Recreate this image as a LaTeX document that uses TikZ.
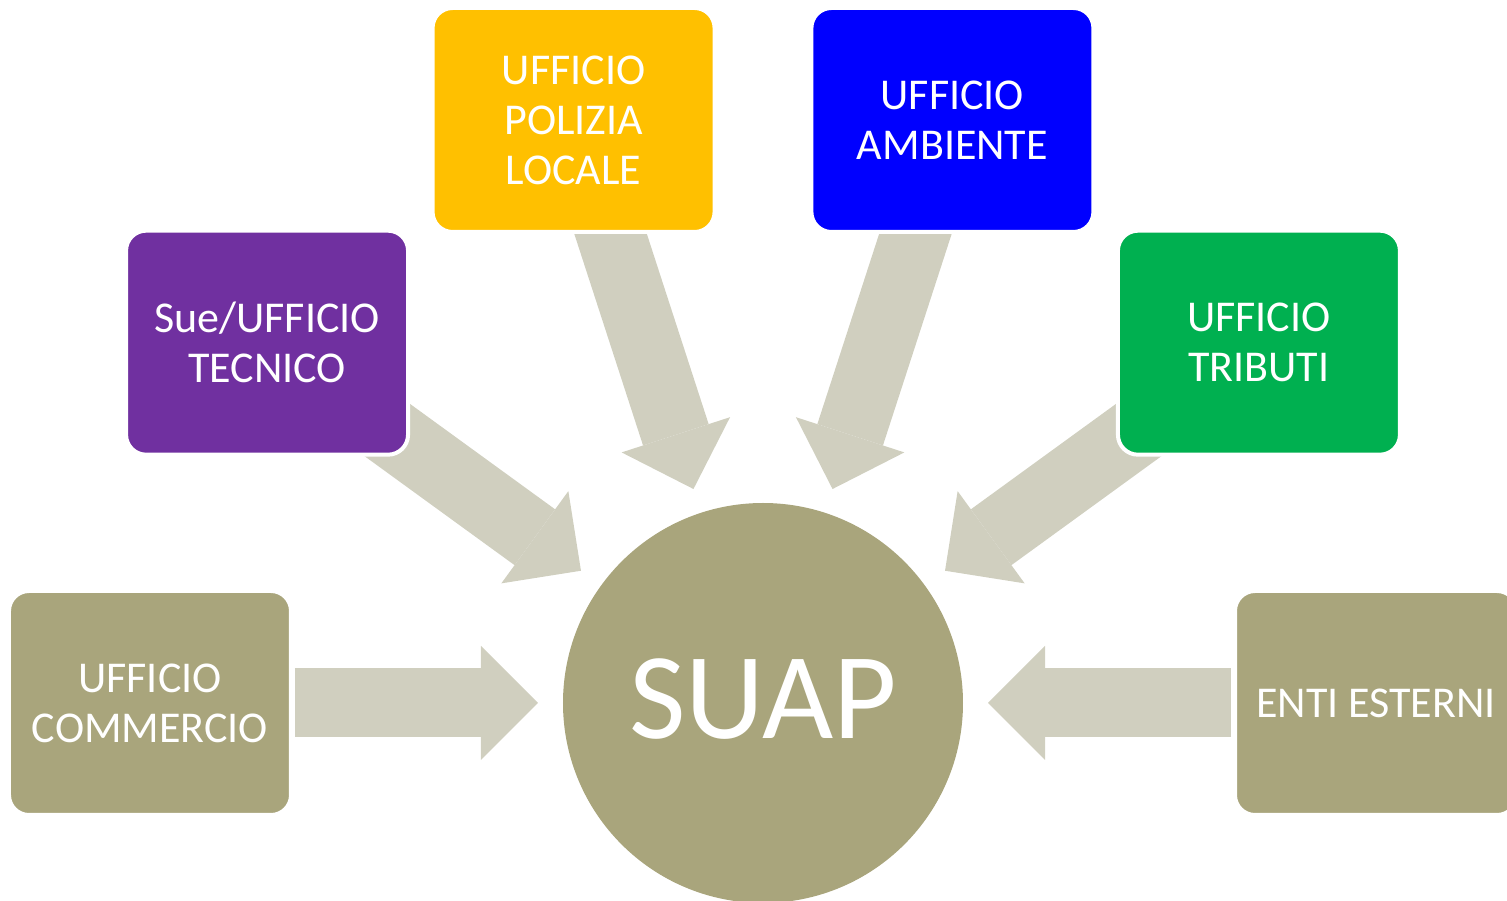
\documentclass[tikz,border=0pt]{standalone}
\usepackage{fontspec}
\setmainfont{Carlito}
\usetikzlibrary{arrows.meta,backgrounds}

\definecolor{oliva}{HTML}{A9A57C}
\definecolor{grigio}{HTML}{D0CFBF}
\definecolor{viola}{HTML}{7030A0}
\definecolor{giallo}{HTML}{FFC000}
\definecolor{blu}{HTML}{0000FF}
\definecolor{verde}{HTML}{00B050}

\begin{document}
\begin{tikzpicture}[x=1pt, y=1pt,
    ufficio/.style={draw=white, line width=4pt, rounded corners=20pt,
      minimum width=282pt, minimum height=224pt, text=white, align=center,
      font=\fontsize{44}{50}\selectfont},
    freccia/.style={draw=grigio, line width=69pt,
      -{Triangle[length=57pt, width=114pt, line width=0pt]},
      shorten <=145pt, shorten >=225pt}]
    \useasboundingbox (-763, -198) rectangle (744, 703);

    \node[circle, fill=oliva, minimum size=400pt, text=white, text depth=9pt,
      font=\fontsize{123}{123}\selectfont] (suap) at (0, 0) {SUAP};

    \node[ufficio, fill=oliva] (comm) at (180:613) {UFFICIO\\COMMERCIO};
    \node[ufficio, fill=viola] (tec) at (144:613) {Sue/UFFICIO\\TECNICO};
    \node[ufficio, fill=giallo] (pol) at (108:613) {UFFICIO\\POLIZIA\\LOCALE};
    \node[ufficio, fill=blu] (amb) at (72:613) {UFFICIO\\AMBIENTE};
    \node[ufficio, fill=verde] (trib) at (36:613) {UFFICIO\\TRIBUTI};
    \node[ufficio, fill=oliva] (enti) at (0:613) {ENTI ESTERNI};

    % frecce sotto i riquadri
    \begin{scope}[on background layer]
      \draw[freccia] (comm.center) -- (suap.center);
      \draw[freccia] (tec.center) -- (suap.center);
      \draw[freccia, shorten <=100pt] (pol.center) -- (suap.center);
      \draw[freccia, shorten <=100pt] (amb.center) -- (suap.center);
      \draw[freccia] (trib.center) -- (suap.center);
      \draw[freccia] (enti.center) -- (suap.center);
    \end{scope}
\end{tikzpicture}
\end{document}
